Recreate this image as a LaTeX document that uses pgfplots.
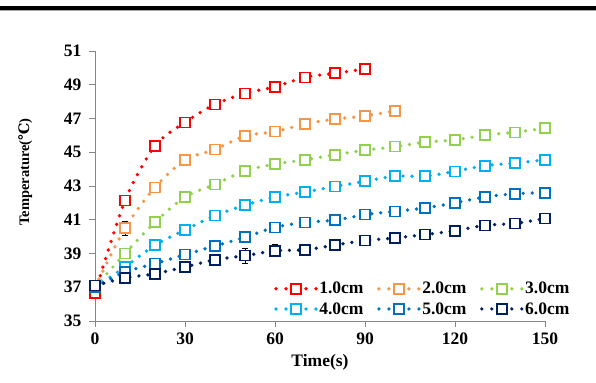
\documentclass[border=0pt]{standalone}
\usepackage{fontspec}
\setmainfont{Liberation Serif}
\newfontfamily\dvs{DejaVu Serif}
\usepackage{pgfplots}
\pgfplotsset{compat=1.18}
\definecolor{c1}{HTML}{FF0000}
\definecolor{c2}{HTML}{F79646}
\definecolor{c3}{HTML}{92D050}
\definecolor{c4}{HTML}{00B0F0}
\definecolor{c5}{HTML}{0070C0}
\definecolor{c6}{HTML}{002060}
\definecolor{axgray}{HTML}{868686}
\newcommand{\bigfont}{\fontsize{17.5bp}{20bp}\selectfont\bfseries}
\pgfplotsset{
  ser/.style={
    color=#1, smooth, line width=3.7bp, line cap=round, dash pattern=on 0pt off 9bp,
    mark=square*, mark size=5bp,
    mark options={solid, fill=white, draw=#1, line width=1.6bp},
    error bars/.cd, y dir=both, y explicit,
    error bar style={solid, black, line width=0.8bp, line cap=butt},
    error mark options={rotate=90, mark size=3bp, black, line width=0.8bp, solid}
  }
}
\begin{document}
\begin{tikzpicture}
\useasboundingbox (0,0) rectangle (596bp,383bp);
\fill[black] (0,373bp) rectangle (596bp,376.5bp);
\fill[black!35] (0,372bp) rectangle (596bp,373bp);
\begin{axis}[
  at={(95bp,62bp)}, anchor=south west, scale only axis,
  width=450bp, height=270bp,
  xmin=0, xmax=150, ymin=35, ymax=51,
  xtick={0,30,...,150}, ytick={35,37,...,51},
  axis x line*=bottom, axis y line*=left,
  axis line style={draw=axgray, line width=0.9bp, -},
  tick style={draw=axgray, line width=0.9bp},
  tick align=outside, major tick length=6bp,
  clip=false,
  /pgf/number format/assume math mode=true,
  ticklabel style={font=\bigfont},
  yticklabel style={xshift=-4bp},
  xticklabel style={yshift=-2bp},
  xlabel={Time(s)},
  xlabel style={font=\bigfont, at={(axis description cs:0.5,-0.152)}, anchor=center},
  ylabel={Temperature({\dvs ℃})},
  ylabel style={font=\fontsize{14.5bp}{16bp}\selectfont\bfseries, at={(axis description cs:-0.155,0.552)}, anchor=center},
  legend columns=3,
  legend style={draw=none, fill=none, font=\bigfont, at={(axis description cs:1.058,0.014)}, anchor=south east,
    inner sep=0pt, row sep=4bp, /tikz/every even column/.append style={column sep=12bp}, nodes={inner sep=1.5bp}},
  legend cell align=left,
  legend image code/.code={\draw[#1, dash pattern=on 0pt off 10bp, mark repeat=2, mark phase=2] plot coordinates {(0bp,0bp) (20bp,0bp) (40bp,0bp)};},
]
\addplot[ser=c1] table[x=t, y=T, y error=e] {
t T e
0 36.66 0
10 42.13 0
20 45.37 0.25
30 46.77 0
40 47.84 0
50 48.49 0
60 48.88 0
70 49.44 0
80 49.68 0
90 49.93 0
};
\addlegendentry{1.0cm}
\addplot[ser=c2] table[x=t, y=T, y error=e] {
t T e
0 37.0 0
10 40.5 0.4
20 42.92 0
30 44.54 0
40 45.17 0
50 45.96 0
60 46.22 0
70 46.67 0
80 46.97 0
90 47.15 0
100 47.46 0
};
\addlegendentry{2.0cm}
\addplot[ser=c3] table[x=t, y=T, y error=e] {
t T e
0 37.0 0
10 39.0 0
20 40.85 0
30 42.35 0
40 43.1 0
50 43.9 0
60 44.3 0
70 44.55 0
80 44.85 0
90 45.12 0
100 45.33 0
110 45.6 0.3
120 45.73 0
130 46.02 0
140 46.18 0
150 46.43 0
};
\addlegendentry{3.0cm}
\addplot[ser=c4] table[x=t, y=T, y error=e] {
t T e
0 37.0 0
10 38.2 0
20 39.5 0
30 40.4 0
40 41.25 0
50 41.86 0
60 42.35 0.3
70 42.64 0
80 42.97 0
90 43.28 0
100 43.58 0
110 43.58 0
120 43.87 0
130 44.2 0
140 44.36 0
150 44.55 0
};
\addlegendentry{4.0cm}
\addplot[ser=c5] table[x=t, y=T, y error=e] {
t T e
0 37.0 0
10 37.9 0
20 38.4 0
30 38.93 0
40 39.45 0
50 39.96 0
60 40.55 0
70 40.84 0
80 40.98 0
90 41.3 0
100 41.5 0
110 41.7 0
120 42.0 0
130 42.35 0
140 42.54 0
150 42.6 0
};
\addlegendentry{5.0cm}
\addplot[ser=c6] table[x=t, y=T, y error=e] {
t T e
0 37.1 0.2
10 37.55 0
20 37.8 0
30 38.2 0
40 38.63 0
50 38.87 0.43
60 39.16 0.35
70 39.22 0
80 39.5 0
90 39.77 0
100 39.92 0
110 40.12 0
120 40.35 0.2
130 40.67 0
140 40.78 0
150 41.08 0
};
\addlegendentry{6.0cm}
\end{axis}
\end{tikzpicture}
\end{document}
